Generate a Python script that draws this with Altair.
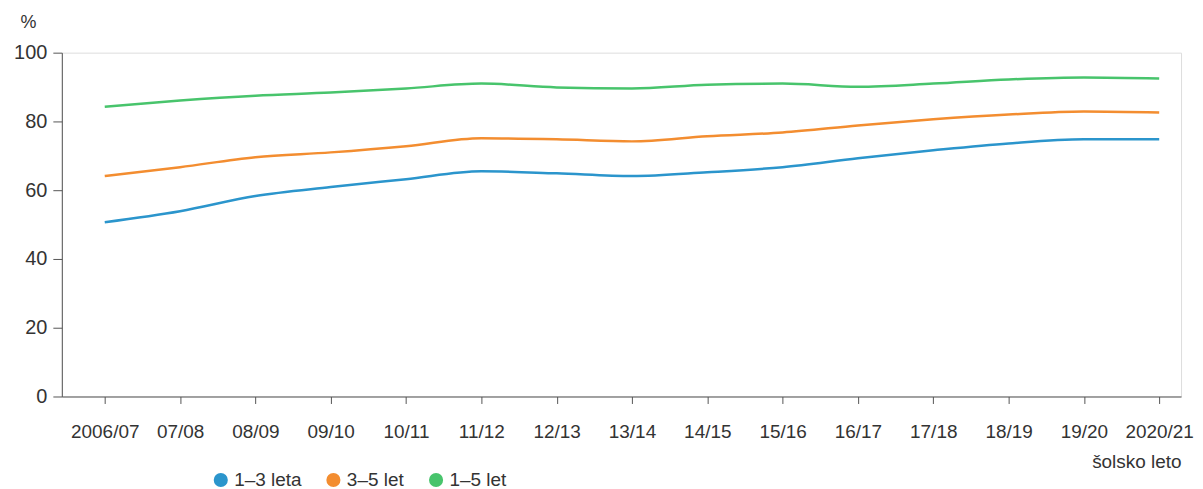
import altair as alt
import pandas as pd

years = ["2006/07", "07/08", "08/09", "09/10", "10/11", "11/12", "12/13", "13/14",
         "14/15", "15/16", "16/17", "17/18", "18/19", "19/20", "2020/21"]
series_names = ["1–3 leta", "3–5 let", "1–5 let"]
v_1_3 = [50.7, 53.9, 58.3, 60.9, 63.2, 65.5, 64.9, 64.1, 65.2, 66.7, 69.3, 71.6, 73.6, 74.8, 74.8]
v_3_5 = [64.1, 66.7, 69.6, 71.0, 72.8, 75.1, 74.8, 74.2, 75.7, 76.8, 78.8, 80.6, 82.0, 82.9, 82.6]
v_1_5 = [84.3, 86.1, 87.5, 88.4, 89.6, 91.0, 89.9, 89.6, 90.7, 91.0, 90.1, 91.0, 92.2, 92.8, 92.5]
colors = ["#2b95cc", "#f38d30", "#48c46c"]

rows = []
for name, vals in zip(series_names, [v_1_3, v_3_5, v_1_5]):
    for i, (y, v) in enumerate(zip(years, vals)):
        rows.append({"idx": i, "leto": y, "serija": name, "legenda": name, "vrednost": v})
df = pd.DataFrame(rows)

label_expr = "[" + ",".join("'" + y + "'" for y in years) + "][datum.value]"
FONT = "Liberation Sans"

x_enc = alt.X("idx:Q",
              scale=alt.Scale(domain=[-0.57, 14.29], nice=False, zero=False),
              axis=alt.Axis(values=list(range(len(years))), labelExpr=label_expr,
                            title="šolsko leto", titleAlign="right", titleAnchor="end",
                            titleX=1123, titleY=71, titleBaseline="alphabetic",
                            titleFontWeight="normal", titleFontSize=19, titleColor="#333",
                            labelFontSize=19, labelColor="#333", labelPadding=19,
                            tickSize=7, tickColor="#555", domainColor="#555",
                            labelFlush=False, labelOverlap=False, grid=False))
y_enc = alt.Y("vrednost:Q",
              scale=alt.Scale(domain=[0, 100], nice=False),
              axis=alt.Axis(values=[0, 20, 40, 60, 80, 100], title="%", titleAngle=0,
                            titleX=-42, titleY=-25, titleAlign="left",
                            titleBaseline="alphabetic",
                            titleFontWeight="normal", titleFontSize=18, titleColor="#333",
                            labelFontSize=20, labelColor="#333", labelPadding=6,
                            tickSize=9, tickColor="#555", domainColor="#555", grid=False))

lines = alt.Chart(df).mark_line(strokeWidth=2.5, interpolate="monotone").encode(
    x=x_enc,
    y=y_enc,
    color=alt.Color("serija:N",
                    scale=alt.Scale(domain=series_names, range=colors),
                    legend=None),
)

legend_pts = alt.Chart(df).mark_circle(opacity=0, size=1).encode(
    x=x_enc,
    y=y_enc,
    fill=alt.Fill("legenda:N",
                  scale=alt.Scale(domain=series_names, range=colors),
                  legend=alt.Legend(title=None, orient="none", direction="horizontal",
                                    legendX=150, legendY=419, symbolType="circle",
                                    symbolSize=200, symbolOpacity=1, symbolStrokeWidth=0,
                                    labelFontSize=19, labelColor="#333",
                                    columnPadding=22, labelOffset=4)),
)

chart = alt.layer(lines, legend_pts).resolve_scale(fill="independent").properties(
    width=1123, height=345,
    autosize=alt.AutoSizeParams(type="none"),
    padding={"left": 54, "top": 44, "right": 14, "bottom": 92},
).configure_view(stroke=None).configure(font=FONT)

chart.save("out.html", embed_options={"renderer": "svg", "actions": False})
